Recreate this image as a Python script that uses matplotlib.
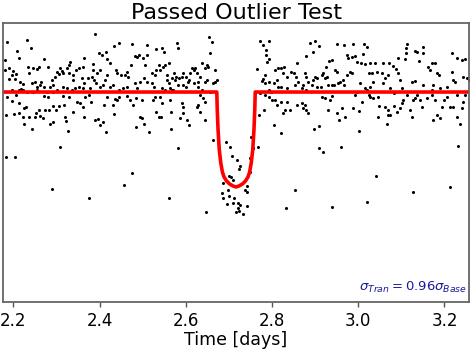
import numpy as np
import matplotlib
matplotlib.use('Agg')
import matplotlib.pyplot as plt

# time [days] and normalised flux of the light curve points
time = [
    2.389, 2.186, 2.231, 2.208, 2.240, 2.213, 2.434, 2.446, 2.476, 2.510, 2.532, 2.399, 2.406, 2.415,
    2.365, 2.418, 2.425, 2.385, 2.331, 2.330, 2.309, 2.280, 2.272, 2.260, 2.254, 2.246, 2.233, 2.180,
    2.189, 2.200, 2.197, 2.205, 2.204, 2.216, 2.222, 2.191, 2.180, 2.237, 2.243, 2.250, 2.254, 2.265,
    2.301, 2.313, 2.316, 2.305, 2.297, 2.289, 2.293, 2.324, 2.328, 2.338, 2.339, 2.345, 2.352, 2.362,
    2.360, 2.365, 2.372, 2.382, 2.386, 2.384, 2.395, 2.401, 2.413, 2.417, 2.438, 2.441, 2.449, 2.459,
    2.463, 2.467, 2.472, 2.482, 2.486, 2.492, 2.500, 2.509, 2.505, 2.521, 2.529, 2.532, 2.539, 2.502,
    2.494, 2.509, 2.521, 2.526, 2.482, 2.486, 2.463, 2.455, 2.445, 2.432, 2.424, 2.409, 2.401, 2.392,
    2.378, 2.362, 2.353, 2.343, 2.335, 2.324, 2.316, 2.302, 2.293, 2.285, 2.277, 2.270, 2.262, 2.256,
    2.245, 2.231, 2.223, 2.217, 2.212, 2.196, 2.186, 2.196, 2.183, 2.205, 2.212, 2.225, 2.229, 2.202,
    2.212, 2.223, 2.225, 2.236, 2.244, 2.250, 2.253, 2.260, 2.262, 2.268, 2.274, 2.272, 2.280, 2.283,
    2.284, 2.291, 2.293, 2.298, 2.307, 2.318, 2.320, 2.326, 2.321, 2.316, 2.328, 2.339, 2.348, 2.355,
    2.361, 2.364, 2.366, 2.376, 2.379, 2.389, 2.397, 2.401, 2.409, 2.411, 2.415, 2.417, 2.430, 2.436,
    2.440, 2.434, 2.444, 2.463, 2.471, 2.478, 2.484, 2.494, 2.498, 2.498, 2.503, 2.514, 2.525, 2.529,
    2.532, 2.537, 2.484, 2.183, 2.204, 2.309, 2.289, 2.375, 2.456, 2.476,
    # 2.54 - 2.89
    2.655, 2.660, 2.579, 2.582, 2.544, 2.550, 2.540, 2.546, 2.552, 2.560, 2.556, 2.556, 2.560, 2.567,
    2.573, 2.575, 2.577, 2.585, 2.591, 2.594, 2.601, 2.610, 2.614, 2.618, 2.621, 2.625, 2.633, 2.637,
    2.645, 2.649, 2.652, 2.656, 2.668, 2.668, 2.664, 2.645, 2.649, 2.629, 2.618, 2.606, 2.594, 2.601,
    2.608, 2.583, 2.564, 2.567, 2.571, 2.552, 2.544, 2.540, 2.544, 2.564, 2.591, 2.594, 2.594, 2.587,
    2.602, 2.608, 2.566, 2.542, 2.641, 2.645, 2.629, 2.625, 2.633, 2.645, 2.633, 2.656, 2.637, 2.629,
    2.672, 2.771, 2.780, 2.794, 2.786, 2.786, 2.792, 2.789, 2.766, 2.784, 2.780, 2.776, 2.784, 2.794,
    2.807, 2.815, 2.822, 2.828, 2.826, 2.834, 2.811, 2.805, 2.815, 2.822, 2.834, 2.844, 2.850, 2.856,
    2.861, 2.853, 2.859, 2.880, 2.887, 2.877, 2.880, 2.884, 2.873, 2.869, 2.880, 2.772, 2.784, 2.794,
    2.799, 2.807, 2.811, 2.822, 2.830, 2.842, 2.857, 2.869, 2.877, 2.880, 2.884, 2.873, 2.834, 2.797,
    2.792, 2.782, 2.770, 2.805, 2.820, 2.826, 2.561, 2.581, 2.566, 2.854, 2.833, 2.647,
    # in transit
    2.663, 2.693, 2.703, 2.707, 2.718, 2.726, 2.724, 2.700, 2.704, 2.709, 2.686, 2.698, 2.684, 2.700,
    2.712, 2.686, 2.696, 2.710, 2.720, 2.726, 2.720, 2.724, 2.732, 2.737, 2.741, 2.743, 2.749, 2.748,
    2.757, 2.751, 2.768, 2.742, 2.717,
    # 2.89 - 3.26
    2.900, 2.908, 2.896, 2.950, 2.966, 2.987, 3.014, 3.021, 3.012, 2.973, 2.977, 2.985, 2.993, 2.997,
    3.006, 3.016, 3.028, 3.040, 3.058, 3.072, 3.080, 3.088, 3.093, 3.109, 3.111, 3.114, 3.111, 3.132,
    3.136, 3.151, 3.150, 3.140, 3.171, 3.178, 3.163, 3.167, 3.182, 3.188, 3.217, 3.229, 3.240, 3.248,
    3.217, 3.221, 3.225, 3.244, 3.252, 3.256, 3.205, 3.190, 3.174, 3.171, 3.151, 3.132, 3.124, 3.097,
    3.093, 3.101, 3.082, 3.074, 3.062, 3.058, 3.070, 3.055, 3.043, 3.034, 3.031, 3.024, 3.028, 3.016,
    3.020, 3.004, 2.997, 2.981, 2.985, 2.973, 2.964, 2.958, 2.966, 2.954, 2.943, 2.946, 2.950, 2.939,
    2.933, 2.926, 2.919, 2.927, 2.923, 2.915, 2.904, 2.900, 2.896, 2.892, 2.904, 2.913, 2.929, 2.939,
    2.915, 2.923, 2.935, 2.939, 2.931, 2.950, 2.962, 2.970, 2.956, 2.989, 2.993, 3.001, 3.008, 3.024,
    3.028, 3.035, 3.045, 3.049, 3.047, 3.062, 3.068, 3.074, 3.070, 3.066, 3.083, 3.089, 3.097, 3.101,
    3.105, 3.113, 3.120, 3.124, 3.127, 3.132, 3.136, 3.144, 3.147, 3.159, 3.171, 3.178, 3.182, 3.190,
    3.174, 3.194, 3.198, 3.205, 3.213, 3.221, 3.229, 3.235, 3.240, 3.244, 3.248, 3.229, 2.898, 2.910,
    2.908, 2.919, 2.960, 3.001, 3.041, 3.127, 3.212, 3.232, 2.939, 3.021,
]
flux = [
    1.0058, 1.0050, 1.0052, 1.0041, 1.0044, 1.0034, 1.0046, 1.0049, 1.0048, 1.0047, 1.0043, 1.0039, 1.0037, 1.0040,
    1.0034, 1.0033, 1.0029, 1.0028, 1.0030, 1.0027, 1.0024, 1.0025, 1.0033, 1.0025, 1.0023, 1.0024, 1.0025, 1.0032,
    1.0024, 1.0021, 1.0017, 1.0018, 1.0013, 1.0010, 1.0008, 1.0013, 1.0022, 1.0019, 1.0009, 1.0010, 1.0005, 1.0010,
    1.0020, 1.0021, 1.0019, 1.0018, 1.0015, 1.0012, 1.0007, 1.0024, 1.0019, 1.0017, 1.0012, 1.0022, 1.0024, 1.0025,
    1.0014, 1.0009, 1.0014, 1.0015, 1.0012, 1.0022, 1.0019, 1.0022, 1.0012, 1.0017, 1.0022, 1.0019, 1.0017, 1.0017,
    1.0020, 1.0015, 1.0027, 1.0036, 1.0035, 1.0037, 1.0034, 1.0037, 1.0027, 1.0019, 1.0017, 1.0022, 1.0027, 1.0014,
    1.0010, 1.0010, 1.0009, 1.0005, 1.0009, 1.0004, 1.0005, 1.0004, 1.0002, 1.0007, 1.0005, 1.0007, 1.0005, 1.0009,
    1.0004, 1.0004, 1.0005, 1.0004, 1.0002, 1.0004, 1.0005, 1.0002, 1.0000, 1.0005, 1.0000, 1.0005, 1.0007, 1.0002,
    1.0000, 1.0000, 1.0002, 1.0003, 1.0002, 1.0002, 0.9995, 0.9991, 0.9977, 0.9997, 0.9989, 0.9984, 0.9985, 0.9978,
    0.9979, 0.9975, 0.9968, 0.9975, 0.9963, 0.9975, 0.9979, 0.9982, 0.9976, 0.9974, 0.9982, 0.9996, 0.9995, 0.9982,
    0.9968, 0.9970, 0.9986, 0.9982, 0.9986, 0.9987, 0.9975, 0.9961, 0.9971, 0.9996, 0.9995, 0.9980, 0.9990, 0.9989,
    0.9985, 0.9975, 0.9995, 0.9997, 0.9990, 0.9972, 0.9973, 0.9967, 0.9970, 0.9987, 0.9960, 0.9995, 0.9987, 0.9993,
    0.9992, 0.9978, 0.9995, 0.9996, 0.9992, 0.9987, 0.9965, 0.9975, 0.9974, 0.9992, 0.9968, 0.9960, 0.9992, 0.9995,
    0.9980, 0.9975, 0.9994, 0.9935, 0.9935, 0.9945, 0.9903, 0.9894, 0.9907, 0.9919,
    # 2.54 - 2.89
    1.0055, 1.0050, 1.0049, 1.0044, 1.0044, 1.0040, 1.0022, 1.0025, 1.0027, 1.0029, 1.0017, 1.0012, 1.0009, 1.0014,
    1.0019, 1.0012, 1.0015, 1.0014, 1.0015, 1.0019, 1.0015, 1.0019, 1.0024, 1.0022, 1.0024, 1.0019, 1.0015, 1.0029,
    1.0024, 1.0027, 1.0025, 1.0039, 1.0022, 1.0010, 1.0009, 1.0010, 1.0012, 1.0010, 1.0009, 1.0010, 1.0007, 1.0005,
    1.0012, 1.0007, 1.0004, 1.0002, 1.0002, 1.0002, 1.0004, 0.9995, 0.9989, 0.9992, 0.9989, 0.9985, 0.9979, 0.9974,
    0.9972, 0.9967, 0.9980, 0.9975, 0.9994, 0.9990, 0.9987, 0.9985, 0.9980, 0.9972, 0.9997, 1.0000, 1.0002, 1.0005,
    1.0012, 1.0051, 1.0047, 1.0051, 1.0042, 1.0037, 1.0033, 1.0030, 1.0023, 1.0017, 1.0013, 1.0011, 1.0009, 1.0010,
    1.0022, 1.0024, 1.0024, 1.0025, 1.0019, 1.0015, 1.0012, 1.0009, 1.0005, 1.0005, 1.0004, 1.0020, 1.0019, 1.0015,
    1.0010, 1.0007, 1.0029, 1.0036, 1.0049, 1.0019, 1.0015, 1.0010, 1.0007, 1.0004, 1.0002, 0.9999, 0.9997, 0.9995,
    0.9992, 0.9992, 0.9987, 0.9990, 0.9982, 0.9982, 0.9987, 0.9989, 0.9987, 0.9982, 0.9979, 0.9984, 0.9990, 1.0000,
    1.0002, 0.9982, 0.9977, 0.9967, 0.9959, 0.9979, 0.9894, 0.9944, 0.9963, 0.9902, 0.9884, 0.9880,
    # in transit
    0.9952, 0.9950, 0.9945, 0.9936, 0.9932, 0.9926, 0.9923, 0.9916, 0.9915, 0.9912, 0.9909, 0.9902, 0.9899, 0.9896,
    0.9894, 0.9894, 0.9888, 0.9889, 0.9889, 0.9887, 0.9884, 0.9881, 0.9878, 0.9902, 0.9900, 0.9906, 0.9920, 0.9934,
    0.9944, 0.9955, 0.9945, 0.9886, 0.9880,
    # 2.89 - 3.26
    1.0051, 1.0046, 1.0040, 1.0048, 1.0047, 1.0048, 1.0048, 1.0045, 1.0038, 1.0037, 1.0034, 1.0035, 1.0036, 1.0030,
    1.0029, 1.0028, 1.0029, 1.0029, 1.0029, 1.0029, 1.0026, 1.0023, 1.0034, 1.0033, 1.0039, 1.0048, 1.0044, 1.0041,
    1.0040, 1.0045, 1.0039, 1.0031, 1.0029, 1.0029, 1.0025, 1.0022, 1.0019, 1.0017, 1.0039, 1.0034, 1.0032, 1.0033,
    1.0020, 1.0012, 1.0010, 1.0015, 1.0014, 1.0012, 1.0005, 1.0004, 1.0007, 1.0002, 1.0007, 1.0011, 1.0010, 1.0012,
    1.0019, 1.0004, 0.9999, 1.0004, 1.0014, 1.0009, 1.0017, 1.0019, 1.0020, 1.0010, 1.0019, 1.0019, 1.0005, 1.0004,
    1.0002, 1.0009, 1.0000, 1.0020, 1.0019, 1.0017, 1.0012, 1.0010, 1.0007, 1.0009, 1.0007, 1.0022, 1.0020, 1.0032,
    1.0031, 1.0025, 1.0019, 1.0015, 1.0014, 1.0017, 1.0014, 1.0015, 1.0012, 1.0007, 1.0005, 1.0005, 1.0007, 1.0007,
    0.9995, 0.9994, 0.9992, 0.9996, 0.9982, 0.9979, 0.9984, 0.9975, 0.9972, 0.9984, 0.9997, 0.9981, 0.9990, 0.9997,
    0.9995, 0.9994, 0.9995, 0.9986, 0.9975, 0.9985, 0.9977, 0.9977, 0.9982, 0.9968, 0.9986, 0.9980, 0.9984, 0.9989,
    0.9992, 0.9997, 0.9982, 0.9975, 0.9992, 0.9994, 0.9997, 0.9992, 0.9985, 0.9994, 0.9997, 0.9992, 0.9977, 0.9974,
    0.9972, 0.9985, 0.9992, 0.9995, 0.9985, 0.9985, 0.9975, 0.9968, 0.9984, 0.9990, 0.9997, 0.9997, 0.9963, 0.9966,
    0.9944, 0.9940, 0.9945, 0.9961, 0.9916, 0.9900, 0.9905, 0.9946, 0.9885, 0.9890,
]

# transit model (red curve)
model_time = [2.10, 2.6719, 2.6730, 2.6749, 2.6777, 2.6812, 2.6849, 2.6888, 2.6946, 2.7016, 2.7097,
              2.7165, 2.7233, 2.7314, 2.7384, 2.7442, 2.7481, 2.7518, 2.7553, 2.7581, 2.7600,
              2.7611, 3.30]
model_flux = [1.0, 1.0, 0.9982, 0.9962, 0.9942, 0.9929, 0.9920, 0.9915, 0.9911, 0.9908, 0.9906,
              0.9905, 0.9906, 0.9908, 0.9911, 0.9915, 0.9920, 0.9929, 0.9942, 0.9962, 0.9982,
              1.0, 1.0]

xticks = [2.2, 2.4, 2.6, 2.8, 3.0, 3.2]

fig = plt.figure(figsize=(4.7, 3.49), dpi=100)
ax = fig.add_axes([0.0064, 0.1347, 0.9915, 0.7993])

ax.plot(time, flux, 'o', color='k', markersize=2.2, markeredgewidth=0)
ax.plot(model_time, model_flux, '-', color='red', linewidth=2.6,
        solid_joinstyle='round', solid_capstyle='round')

ax.set_xlim(2.176, 3.257)
ax.set_ylim(0.979, 1.0069)
ax.set_xticks(xticks)
ax.set_xticklabels([f'{v:.1f}' for v in xticks], fontsize=12)
ax.set_yticks([])
ax.tick_params(axis='x', direction='out', length=3.5, width=1, color='#555555')
for s in ax.spines.values():
    s.set_color('#666666')
    s.set_linewidth(1.3)

ax.set_title('Passed Outlier Test', fontsize=16, pad=3)
ax.set_xlabel('Time [days]', fontsize=12.5, labelpad=1)
ax.text(0.995, 0.025, r'$\sigma_{Tran} = 0.96\sigma_{Base}$', transform=ax.transAxes,
        ha='right', va='bottom', fontsize=9.5, color='#1a1a9a')

fig.savefig('out.png', dpi=100)
